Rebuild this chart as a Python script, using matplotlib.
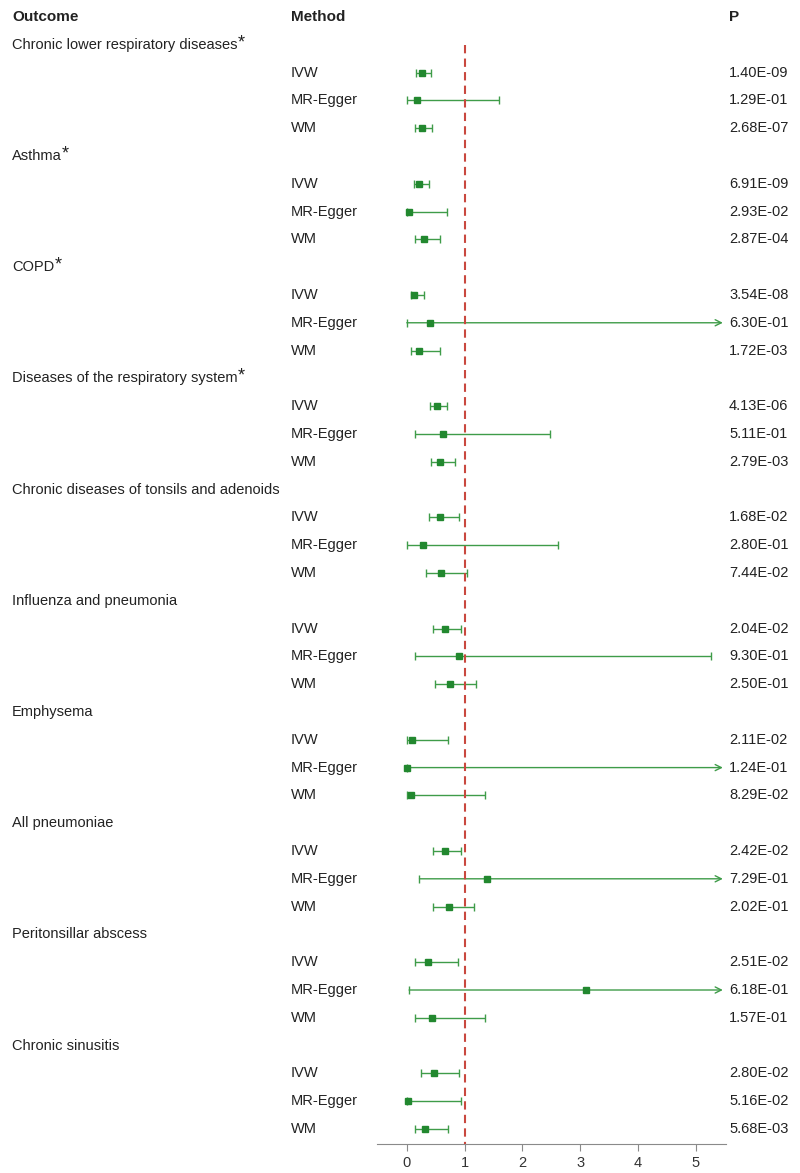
import numpy as np
import matplotlib.pyplot as plt
import matplotlib.transforms as mtransforms

plt.rcParams['font.family'] = ['Liberation Sans', 'DejaVu Sans']

outcomes = [
    'Chronic lower respiratory diseases',
    'Asthma',
    'COPD',
    'Diseases of the respiratory system',
    'Chronic diseases of tonsils and adenoids',
    'Influenza and pneumonia',
    'Emphysema',
    'All pneumoniae',
    'Peritonsillar abscess',
    'Chronic sinusitis',
]
starred = [True, True, True, True, False, False, False, False, False, False]
methods = ['IVW', 'MR-Egger', 'WM']

# odds ratio estimates per outcome: IVW, MR-Egger, WM
est = [
    [0.26, 0.18, 0.26],
    [0.22, 0.04, 0.30],
    [0.12, 0.41, 0.22],
    [0.53, 0.62, 0.58],
    [0.58, 0.28, 0.60],
    [0.67, 0.91, 0.75],
    [0.09, 0.00, 0.08],
    [0.67, 1.39, 0.73],
    [0.37, 3.11, 0.44],
    [0.47, 0.03, 0.32],
]
lower = [
    [0.16, 0.01, 0.15],
    [0.12, 0.00, 0.14],
    [0.07, 0.00, 0.08],
    [0.40, 0.15, 0.42],
    [0.39, 0.01, 0.34],
    [0.46, 0.15, 0.48],
    [0.01, 0.00, 0.00],
    [0.46, 0.22, 0.46],
    [0.15, 0.04, 0.14],
    [0.24, 0.00, 0.15],
]
# inf = upper limit runs past the axis (drawn as arrow)
upper = [
    [0.42, 1.60, 0.44],
    [0.38, 0.70, 0.58],
    [0.29, np.inf, 0.58],
    [0.70, 2.48, 0.84],
    [0.91, 2.62, 1.04],
    [0.93, 5.26, 1.20],
    [0.72, np.inf, 1.35],
    [0.94, np.inf, 1.17],
    [0.89, np.inf, 1.36],
    [0.91, 0.94, 0.72],
]
pvals = [
    ['1.40E-09', '1.29E-01', '2.68E-07'],
    ['6.91E-09', '2.93E-02', '2.87E-04'],
    ['3.54E-08', '6.30E-01', '1.72E-03'],
    ['4.13E-06', '5.11E-01', '2.79E-03'],
    ['1.68E-02', '2.80E-01', '7.44E-02'],
    ['2.04E-02', '9.30E-01', '2.50E-01'],
    ['2.11E-02', '1.24E-01', '8.29E-02'],
    ['2.42E-02', '7.29E-01', '2.02E-01'],
    ['2.51E-02', '6.18E-01', '1.57E-01'],
    ['2.80E-02', '5.16E-02', '5.68E-03'],
]

line_col = '#3f9c49'
mark_col = '#22882f'
txt_col = '#222222'
xmax = 5.52
arrow_end = 5.47

fig = plt.figure(figsize=(8, 11.73), dpi=100)
ax = fig.add_axes([0.4709, 0.0247, 0.43625, 0.9727])
ax.set_xlim(-0.52, xmax)
ax.set_ylim(40.54, -0.5)

trans = mtransforms.blended_transform_factory(fig.transFigure, ax.transData)
x_out, x_meth, x_p = 12 / 800, 291 / 800, 729 / 800

for xh, h in [(x_out, 'Outcome'), (x_meth, 'Method'), (x_p, 'P')]:
    ax.text(xh, 0, h, transform=trans, fontsize=11, fontweight='bold',
            va='center', color=txt_col, clip_on=False)

renderer = fig.canvas.get_renderer()
for g, name in enumerate(outcomes):
    r0 = 1 + 4 * g
    t = ax.text(x_out, r0, name, transform=trans, fontsize=10.5, va='center',
                color=txt_col, clip_on=False)
    if starred[g]:
        bb = t.get_window_extent(renderer=renderer)
        ax.annotate('*', xy=(bb.x1, (bb.y0 + bb.y1) / 2), xycoords='figure pixels',
                    xytext=(0.3, 1.5), textcoords='offset points',
                    fontsize=13, color=txt_col, va='center', ha='left',
                    annotation_clip=False)
    for k, m in enumerate(methods):
        r = r0 + 1 + k
        ax.text(x_meth, r, m, transform=trans, fontsize=10.5, va='center',
                color=txt_col, clip_on=False)
        ax.text(x_p, r, pvals[g][k], transform=trans, fontsize=10.5, va='center',
                color=txt_col, clip_on=False)
        lo, hi, e = lower[g][k], upper[g][k], est[g][k]
        if np.isfinite(hi):
            ax.errorbar(e, r, xerr=[[e - lo], [hi - e]], fmt='none',
                        ecolor=line_col, elinewidth=1.0, capsize=3, capthick=1.0)
        else:
            ax.annotate('', xy=(arrow_end, r), xytext=(lo, r),
                        arrowprops=dict(arrowstyle='->', color=line_col, lw=1.0,
                                        shrinkA=0, shrinkB=0, mutation_scale=11))
            ax.plot(lo, r, marker='|', color=line_col, markersize=6, mew=1.0)
        ax.plot(e, r, marker='s', color=mark_col, markersize=4.8, zorder=5)

ax.vlines(1, 1, 40.54, colors='#c9483f', linestyles=(0, (4, 2.5)), lw=1.5, zorder=4)

for s in ['left', 'top', 'right']:
    ax.spines[s].set_visible(False)
ax.spines['bottom'].set_color('#8a8a8a')
ax.set_yticks([])
ax.set_xticks([0, 1, 2, 3, 4, 5])
ax.tick_params(axis='x', colors='#8a8a8a', labelcolor='#333333', labelsize=10.5,
               length=5)

fig.savefig('out.png', dpi=100)
